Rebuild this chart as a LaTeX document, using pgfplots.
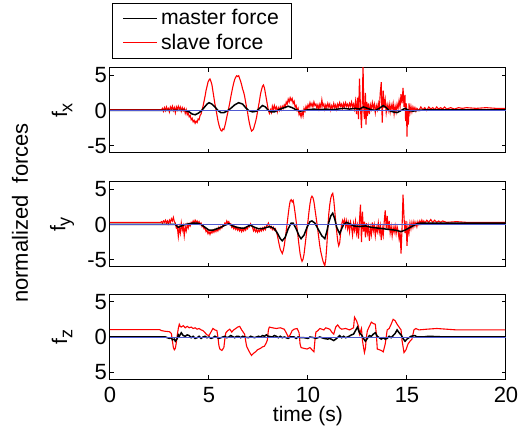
\documentclass[border=0pt]{standalone}
\usepackage{fontspec}
\setmainfont{Liberation Sans}
\usepackage{pgfplots}
\pgfplotsset{compat=1.18}
\definecolor{zeroblue}{RGB}{80,90,210}
\newcommand{\ff}{\fontsize{10.6}{12.6}\selectfont}
\pgfplotsset{
  fpanel/.style={
    scale only axis, width=198pt, height=42.5pt,
    xmin=0, xmax=20, ymin=-6, ymax=6,
    xtick={0,5,10,15,20}, ytick={-5,0,5},
    tick align=inside, xtick pos=both, ytick pos=both,
    major tick length=2pt,
    axis line style={line width=0.5pt},
    every tick/.style={black, line width=0.5pt},
    tick label style={font=\fontsize{11}{13}\selectfont},
    /pgf/number format/assume math mode=true,
    yticklabel style={xshift=2pt},
    xticklabel style={yshift=-0.3pt},
    ylabel style={at={(axis description cs:-0.121,0.5)}, anchor=center, font=\ff},
    anchor=south west,
  },
  slave/.style={red, line width=0.55pt},
  master/.style={black, line width=0.75pt},
  zero/.style={zeroblue, line width=0.35pt},
}
\newcommand{\sub}[1]{\raisebox{-0.45ex}{\fontsize{9}{9}\selectfont #1}}
\begin{document}
\begin{tikzpicture}
% ---- f_x ----
\begin{axis}[fpanel, at={(55pt,137pt)}, xticklabels={}, ylabel={f\sub{x}},
  legend style={at={(axis description cs:0.005,1.765)}, anchor=north west,
    draw=black, font=\ff, cells={anchor=west},
    inner xsep=5pt, inner ysep=1.5pt, nodes={inner sep=1.5pt},
    /tikz/every even column/.append style={column sep=5.5pt}}]
\addlegendimage{master}
\addlegendimage{slave}
\legend{master force, slave force}
\addplot[slave] coordinates {(0,0.1) (2.6,0.1)
(2.65,0.3) (2.7,-0.1) (2.75,0.4) (2.8,0.0) (2.85,0.5) (2.9,0.1) (2.95,0.3) (3.0,-0.2) (3.05,0.5) (3.1,0.2) (3.15,0.6) (3.2,0.0) (3.25,0.4) (3.3,-0.3) (3.35,0.5) (3.4,0.1) (3.45,0.6) (3.5,0.2) (3.55,0.5) (3.6,-0.1) (3.65,0.4) (3.7,0.0) (3.75,0.3) (3.8,-0.4) (3.85,0.1) (3.9,-0.6) (3.95,-0.3) (4.0,-0.9) (4.05,-0.7) (4.1,-1.3) (4.15,-1.1) (4.2,-1.6) (4.25,-1.4) (4.3,-1.8) (4.35,-1.5) (4.4,-1.7) (4.45,-1.2) (4.5,-1.3) (4.55,-0.7) (4.6,-0.5) (4.65,0.1) (4.7,0.6) (4.75,1.3) (4.8,2.0) (4.85,2.8) (4.9,3.4) (4.95,4.0) (5.0,4.3) (5.05,4.45) (5.1,4.1) (5.15,3.6) (5.2,2.7) (5.25,1.8) (5.3,0.9) (5.35,0.2) (5.4,-0.6) (5.45,-1.4) (5.5,-2.0) (5.55,-2.5) (5.6,-2.8) (5.65,-2.9) (5.7,-2.6) (5.75,-2.7) (5.8,-2.2) (5.85,-1.6) (5.9,-0.9) (5.95,-0.3) (6.0,0.4) (6.05,1.1) (6.1,1.9) (6.15,2.6) (6.2,3.3) (6.25,3.9) (6.3,4.4) (6.35,4.7) (6.4,4.9) (6.45,4.8) (6.5,4.9) (6.55,4.5) (6.6,4.1) (6.65,3.6) (6.7,3.0) (6.75,2.6) (6.8,2.0) (6.85,1.2) (6.9,0.4) (6.95,-0.3) (7.0,-1.2) (7.05,-1.9) (7.1,-2.5) (7.15,-2.9) (7.2,-2.8) (7.25,-2.6) (7.3,-2.1) (7.35,-1.6) (7.4,-1.0) (7.45,-0.2) (7.5,0.6) (7.55,1.4) (7.6,2.3) (7.65,2.9) (7.7,3.4) (7.75,3.6) (7.8,3.2) (7.85,2.4) (7.9,1.6) (7.95,0.8) (8.0,0.0) (8.05,-0.4) (8.1,0.1) (8.15,-0.3) (8.2,0.6) (8.25,0.1) (8.3,0.7) (8.35,0.2) (8.4,0.5) (8.45,-0.2) (8.5,0.4) (8.55,0.0) (8.6,0.5) (8.65,0.1) (8.7,0.6) (8.75,0.3) (8.8,0.8) (8.85,0.5) (8.9,1.2) (8.95,0.9) (9.0,1.6) (9.05,1.2) (9.1,1.8) (9.15,1.4) (9.2,1.7) (9.25,1.0) (9.3,1.3) (9.35,0.5) (9.4,0.7) (9.45,0.0) (9.5,0.3) (9.55,-0.6) (9.6,-0.3) (9.65,-0.9) (9.7,-0.2) (9.75,-0.8) (9.8,0.3) (9.85,-0.1) (9.9,0.6) (9.95,0.2) (10.0,0.8) (10.05,0.4) (10.1,1.1) (10.15,0.6) (10.2,1.0) (10.25,0.5) (10.3,1.2) (10.35,0.7) (10.4,0.9) (10.45,0.3) (10.5,0.8) (10.55,0.2) (10.6,0.9) (10.65,0.4) (10.7,1.5) (10.75,0.6) (10.8,0.9) (10.85,0.2) (10.9,0.8) (10.95,0.4) (11.0,1.0) (11.05,0.5) (11.1,0.9) (11.15,0.1) (11.2,0.7) (11.25,0.3) (11.3,1.0) (11.35,0.4) (11.4,0.8) (11.45,0.2) (11.5,0.9) (11.55,0.5) (11.6,1.1) (11.65,0.6) (11.7,0.9) (11.75,0.3) (11.8,1.0) (11.85,0.5) (11.9,1.1) (11.95,0.6) (12.0,0.9) (12.05,0.4) (12.1,1.0) (12.15,0.6) (12.2,1.2) (12.25,0.5) (12.3,0.9) (12.35,0.2) (12.4,1.3) (12.45,-0.5) (12.5,1.8) (12.55,-1.2) (12.6,4.5) (12.65,0.5) (12.7,-2.5) (12.75,2.0) (12.78,6.5) (12.82,0.0) (12.85,-1.2) (12.9,2.5) (12.93,-2.0) (12.97,1.2) (13.0,-0.8) (13.05,1.0) (13.1,-0.5) (13.15,0.8) (13.2,0.2) (13.25,1.1) (13.3,0.3) (13.35,0.9) (13.4,-0.3) (13.45,0.7) (13.5,0.1) (13.55,1.0) (13.6,0.0) (13.65,2.5) (13.7,4.0) (13.72,1.5) (13.75,-1.7) (13.8,2.8) (13.85,0.4) (13.9,1.5) (13.95,-0.3) (14.0,0.8) (14.05,0.0) (14.1,0.9) (14.15,-0.2) (14.2,0.8) (14.25,0.2) (14.3,1.0) (14.35,-0.5) (14.4,0.6) (14.45,-0.2) (14.5,0.9) (14.55,0.3) (14.6,1.4) (14.65,0.5) (14.7,2.3) (14.75,1.0) (14.8,3.2) (14.85,0.5) (14.9,2.2) (14.93,-1.5) (14.97,1.0) (15.0,-3.7) (15.03,0.2) (15.07,-2.0) (15.1,1.0) (15.15,-0.3) (15.2,0.6) (15.25,-0.2) (15.3,0.5) (15.35,0.0) (15.4,0.4) (15.45,-0.1) (15.5,0.3) (15.6,0.0) (15.7,0.5) (15.8,0.1) (15.9,0.4) (16.0,0.0) (16.1,0.5) (16.2,0.2) (16.3,0.4) (16.4,0.1) (16.5,0.5) (16.6,0.2) (16.7,0.4) (16.8,0.2) (16.9,0.5) (17.0,0.2) (17.2,0.4) (17.4,0.2) (17.6,0.4) (17.8,0.3) (18.0,0.4) (18.5,0.3) (19.0,0.4) (19.5,0.3) (19.95,0.3)};
\addplot[master] coordinates {(0,0) (3.8,0) (4.0,-0.2) (4.15,-0.5) (4.3,-0.6) (4.45,-0.4) (4.6,-0.1) (4.75,0.4) (4.9,0.9) (5.0,1.1) (5.15,0.9) (5.3,0.5) (5.45,0.0) (5.6,-0.3) (5.75,-0.3) (5.9,-0.1) (6.1,0.3) (6.3,0.8) (6.5,1.1) (6.7,0.9) (6.85,0.4) (7.0,0.0) (7.2,-0.2) (7.4,-0.1) (7.55,0.3) (7.7,0.7) (7.85,0.5) (8.0,0.0) (8.15,-0.2) (8.3,-0.2) (8.45,0.0) (8.6,0.2) (8.8,0.4) (9.0,0.6) (9.2,0.4) (9.4,0.1) (9.6,-0.1) (9.8,0.0) (10.0,0.1) (10.3,0.2) (10.6,0.1) (10.9,0.2) (11.2,0.1) (11.5,0.2) (11.8,0.3) (12.1,0.2) (12.4,0.3) (12.6,0.2) (12.8,0.5) (13.0,0.3) (13.2,0.1) (13.4,0.0) (13.6,0.3) (13.8,0.7) (13.95,0.4) (14.1,0.0) (14.3,-0.2) (14.5,-0.3) (14.7,0.0) (14.9,0.3) (15.1,0.0) (15.3,-0.1) (15.5,0.0) (16.0,0.1) (17,0.1) (19.95,0.1)};
\addplot[zero] coordinates {(0,0) (20,0)};
\end{axis}
% ---- f_y ----
\begin{axis}[fpanel, at={(55pt,80pt)}, xticklabels={}, ylabel={f\sub{y}}]
\addplot[slave] coordinates {(0,0.3) (2.55,0.3) (2.6,0.4) (2.65,0.2) (2.7,0.5) (2.75,0.3) (2.8,0.6) (2.85,0.2) (2.9,0.5) (2.95,0.1) (3.0,0.6) (3.05,0.3) (3.1,0.8) (3.15,0.5) (3.2,1.0) (3.25,0.4) (3.3,0.2) (3.35,-0.5) (3.4,-0.3) (3.45,-1.7) (3.5,-0.4) (3.55,-1.2) (3.6,0.2) (3.65,-0.8) (3.7,-0.2) (3.75,-1.6) (3.8,-0.3) (3.85,-0.9) (3.9,0.0) (3.95,-0.5) (4.0,0.1) (4.05,-0.2) (4.1,0.3) (4.15,0.1) (4.2,0.5) (4.25,0.2) (4.3,0.6) (4.35,0.3) (4.4,0.5) (4.45,0.2) (4.5,0.4) (4.55,0.0) (4.6,0.2) (4.65,-0.3) (4.7,-0.1) (4.75,-0.6) (4.8,-0.5) (4.85,-1.0) (4.9,-0.8) (4.95,-1.3) (5.0,-1.0) (5.05,-1.4) (5.1,-1.0) (5.15,-1.2) (5.2,-0.8) (5.25,-1.1) (5.3,-0.7) (5.35,-1.0) (5.4,-0.6) (5.45,-0.9) (5.5,-0.4) (5.55,-0.7) (5.6,-0.3) (5.65,-0.5) (5.7,-0.1) (5.75,-0.2) (5.8,0.2) (5.85,0.0) (5.9,0.5) (5.95,0.2) (6.0,0.4) (6.05,0.0) (6.1,0.1) (6.15,-0.4) (6.2,-0.2) (6.25,-0.6) (6.3,-0.3) (6.35,-0.7) (6.4,-0.4) (6.45,-0.8) (6.5,-0.5) (6.55,-0.9) (6.6,-0.6) (6.65,-1.0) (6.7,-0.6) (6.75,-0.9) (6.8,-0.5) (6.85,-0.8) (6.9,-0.4) (6.95,-0.6) (7.0,-0.1) (7.05,-0.3) (7.1,0.1) (7.15,-0.2) (7.2,-0.4) (7.25,-0.9) (7.3,-0.6) (7.35,-1.0) (7.4,-0.7) (7.45,-1.1) (7.5,-0.8) (7.55,-1.0) (7.6,-0.6) (7.65,-0.9) (7.7,-0.5) (7.75,-0.8) (7.8,-0.4) (7.85,-0.7) (7.9,-0.2) (7.95,-0.1) (8.0,0.2) (8.05,-0.2) (8.1,-0.5) (8.15,-0.3) (8.2,-0.7) (8.25,-0.4) (8.3,-0.8) (8.35,-0.6) (8.4,-1.0) (8.45,-1.5) (8.5,-2.2) (8.55,-2.9) (8.6,-3.5) (8.65,-3.8) (8.7,-4.1) (8.75,-3.7) (8.8,-3.0) (8.85,-2.0) (8.9,-0.9) (8.95,0.2) (9.0,1.4) (9.05,2.5) (9.1,3.3) (9.15,3.5) (9.2,3.2) (9.25,3.4) (9.3,2.6) (9.35,1.6) (9.4,0.5) (9.45,-0.6) (9.5,-1.8) (9.55,-3.0) (9.6,-4.1) (9.65,-4.8) (9.7,-5.2) (9.75,-4.9) (9.8,-4.2) (9.85,-3.0) (9.9,-1.8) (9.95,-0.6) (10.0,0.5) (10.05,1.8) (10.1,2.9) (10.15,3.7) (10.2,4.0) (10.25,3.8) (10.3,3.2) (10.35,2.2) (10.4,1.2) (10.45,0.2) (10.5,-0.9) (10.55,-2.0) (10.6,-3.1) (10.65,-3.9) (10.7,-4.5) (10.75,-5.1) (10.8,-5.5) (10.85,-5.8) (10.9,-4.9) (10.95,-3.0) (11.0,-0.6) (11.05,1.5) (11.1,2.8) (11.15,3.7) (11.2,4.2) (11.25,4.4) (11.3,3.5) (11.35,2.0) (11.4,0.4) (11.45,-1.0) (11.5,-2.3) (11.55,-3.0) (11.6,-2.6) (11.65,-1.2) (11.7,0.0) (11.75,0.6) (11.8,0.2) (11.85,0.7) (11.9,-0.3) (11.95,0.5) (12.0,-0.6) (12.05,0.2) (12.1,-1.0) (12.15,0.3) (12.2,-0.4) (12.25,-1.5) (12.3,0.1) (12.35,-0.8) (12.4,0.4) (12.45,-1.2) (12.5,-0.2) (12.55,-2.0) (12.6,0.5) (12.65,2.8) (12.7,-2.5) (12.75,1.8) (12.8,-1.0) (12.85,0.4) (12.9,-1.8) (12.95,0.2) (13.0,-1.2) (13.05,-0.3) (13.1,-2.3) (13.15,-0.5) (13.2,-1.4) (13.25,0.3) (13.3,-0.9) (13.35,-0.1) (13.4,-1.6) (13.45,-0.4) (13.5,-1.0) (13.55,0.2) (13.6,-1.1) (13.65,-0.2) (13.7,-2.2) (13.75,-0.5) (13.8,-1.5) (13.85,0.4) (13.9,2.0) (13.95,-0.5) (14.0,1.2) (14.05,-0.8) (14.1,0.5) (14.15,-1.2) (14.2,-0.3) (14.25,-1.6) (14.3,-0.4) (14.35,-1.1) (14.4,-0.2) (14.45,-1.3) (14.5,-0.3) (14.55,-0.9) (14.6,-2.0) (14.65,-1.0) (14.7,-4.1) (14.75,-0.5) (14.8,4.2) (14.85,1.0) (14.9,-1.2) (14.95,0.5) (15.0,-3.0) (15.05,-0.3) (15.1,-1.2) (15.15,0.2) (15.2,-0.6) (15.25,0.3) (15.3,-0.4) (15.35,0.4) (15.4,-0.2) (15.45,0.3) (15.5,-0.3) (15.55,0.4) (15.6,0.0) (15.65,0.5) (15.7,0.1) (15.75,0.6) (15.8,0.2) (15.85,0.5) (15.9,0.2) (16.0,0.6) (16.1,0.3) (16.2,0.7) (16.3,0.3) (16.4,0.6) (16.5,0.3) (16.6,0.5) (16.7,0.3) (16.8,0.5) (17.0,0.3) (17.5,0.4) (18.0,0.3) (19.0,0.3) (19.95,0.3)};
\addplot[master] coordinates {(0,0) (3.3,0) (3.45,-0.4) (3.6,-0.2) (3.8,0.0) (4.0,0.1) (4.2,0.2) (4.4,0.2) (4.6,0.0) (4.8,-0.4) (5.0,-0.8) (5.2,-0.8) (5.4,-0.6) (5.6,-0.4) (5.8,-0.1) (6.0,0.1) (6.2,-0.2) (6.4,-0.4) (6.6,-0.5) (6.8,-0.5) (7.0,-0.2) (7.1,-0.1) (7.3,-0.4) (7.5,-0.6) (7.7,-0.6) (7.9,-0.4) (8.1,-0.3) (8.3,-0.6) (8.45,-1.2) (8.6,-2.0) (8.7,-2.3) (8.85,-1.8) (9.0,-0.6) (9.15,0.2) (9.25,0.2) (9.4,-0.6) (9.55,-1.6) (9.65,-2.0) (9.8,-1.5) (9.95,-0.4) (10.1,0.4) (10.2,0.5) (10.35,0.2) (10.5,-0.6) (10.7,-1.6) (10.85,-2.0) (10.95,-1.0) (11.05,0.3) (11.15,1.2) (11.25,1.6) (11.35,0.8) (11.45,-0.4) (11.6,-1.3) (11.7,-0.6) (11.8,0.0) (11.95,0.3) (12.1,0.1) (12.3,-0.2) (12.6,-0.3) (12.9,-0.2) (13.2,-0.4) (13.5,-0.5) (13.8,-0.6) (14.1,-0.7) (14.4,-0.8) (14.7,-1.0) (14.9,-0.8) (15.1,-0.5) (15.3,-0.2) (15.5,0.1) (15.7,0.2) (16,0.2) (19.95,0.2)};
\addplot[zero] coordinates {(0,0) (20,0)};
\end{axis}
% ---- f_z ----
\begin{axis}[fpanel, at={(55pt,23.75pt)}, yticklabels={5,0,5}, ylabel={f\sub{z}},
  xlabel={time (s)},
  xlabel style={at={(axis description cs:0.5,-0.5)}, anchor=base, font=\fontsize{10.5}{12.5}\selectfont}]
\addplot[slave] coordinates {(0,1.05) (2.5,1.05) (2.6,0.9) (2.8,0.8) (3.0,0.75) (3.1,0.5) (3.15,-0.5) (3.2,-1.5) (3.25,-1.8) (3.3,-1.6) (3.35,-0.8) (3.4,0.3) (3.45,1.2) (3.5,1.8) (3.55,1.5) (3.6,1.4) (3.7,1.6) (3.8,1.3) (3.9,1.5) (4.0,1.3) (4.1,1.4) (4.2,1.2) (4.3,1.3) (4.4,1.1) (4.5,1.2) (4.6,1.0) (4.7,0.9) (4.8,0.6) (4.9,0.3) (5.0,0.2) (5.1,0.7) (5.2,1.2) (5.3,1.0) (5.4,0.9) (5.45,0.0) (5.5,-1.2) (5.55,-1.7) (5.65,-1.9) (5.75,-1.5) (5.8,-0.3) (5.85,0.6) (5.95,0.9) (6.05,1.1) (6.15,0.7) (6.25,1.0) (6.35,1.2) (6.45,1.4) (6.55,1.5) (6.65,1.0) (6.75,0.6) (6.8,0.4) (6.85,-0.5) (6.9,-1.3) (7.0,-1.9) (7.1,-2.4) (7.15,-2.6) (7.25,-2.3) (7.35,-2.1) (7.45,-1.8) (7.6,-1.6) (7.7,-1.4) (7.8,-1.3) (7.9,-0.8) (7.95,-0.4) (8.0,1.0) (8.05,1.4) (8.2,1.3) (8.4,1.2) (8.6,1.3) (8.8,1.1) (8.9,0.6) (9.0,0.0) (9.1,0.3) (9.2,0.9) (9.3,1.1) (9.45,1.2) (9.55,0.6) (9.6,-1.0) (9.65,-1.5) (9.8,-1.6) (9.95,-1.7) (10.1,-1.5) (10.2,-1.8) (10.3,-2.1) (10.35,-0.5) (10.4,0.7) (10.5,0.9) (10.6,1.2) (10.8,1.0) (10.9,1.3) (11.1,1.1) (11.2,0.7) (11.3,0.4) (11.4,1.4) (11.5,1.7) (11.6,1.3) (11.7,1.1) (11.9,1.2) (12.1,1.0) (12.3,1.3) (12.35,2.8) (12.45,2.3) (12.55,1.5) (12.6,0.4) (12.7,1.2) (12.75,-0.5) (12.85,-2.2) (12.9,-1.6) (12.95,0.0) (13.0,0.9) (13.1,1.5) (13.2,2.1) (13.3,1.9) (13.4,1.8) (13.45,0.5) (13.5,-1.7) (13.6,-1.8) (13.7,-1.9) (13.8,-2.1) (13.9,-1.0) (14.0,1.0) (14.1,1.2) (14.2,1.8) (14.3,2.5) (14.4,2.3) (14.5,1.8) (14.6,1.4) (14.7,1.0) (14.75,-0.5) (14.85,-2.2) (14.95,-1.8) (15.05,-1.0) (15.15,-0.6) (15.25,-0.3) (15.35,1.0) (15.45,1.2) (15.6,1.0) (16,1.1) (16.5,1.2) (17,1.1) (17.5,1.0) (19.95,1.0)};
\addplot[master] coordinates {(0,0) (2.8,0) (3.0,-0.2) (3.1,-0.1) (3.15,-0.4) (3.25,-0.3) (3.3,-0.6) (3.4,-0.2) (3.45,0.3) (3.5,0.1) (3.6,0.6) (3.7,0.2) (3.8,0.1) (3.9,0.3) (4.0,0.2) (4.1,-0.1) (4.2,0.1) (4.3,-0.2) (4.4,-0.1) (4.5,0.1) (4.6,-0.2) (4.7,0.0) (4.8,0.1) (4.9,-0.1) (5.0,0.0) (5.1,-0.2) (5.2,-0.1) (5.3,0.1) (5.5,-0.2) (5.6,-0.1) (5.8,0.1) (5.9,-0.1) (6.0,0.0) (6.1,0.2) (6.3,-0.1) (6.4,0.1) (6.5,0.1) (6.6,-0.1) (6.7,0.1) (6.8,0.0) (7.0,-0.1) (7.1,0.1) (7.2,0.0) (7.3,-0.1) (7.5,0.1) (7.6,0.0) (7.7,0.2) (7.8,0.1) (7.9,0.3) (8.0,0.1) (8.2,0.0) (8.3,0.2) (8.4,0.1) (8.5,-0.1) (8.6,0.1) (8.7,-0.1) (8.8,0.0) (9.0,-0.2) (9.1,0.0) (9.3,0.0) (9.4,-0.2) (9.5,0.0) (9.6,-0.1) (9.8,-0.1) (10.0,-0.2) (10.1,0.0) (10.3,-0.1) (10.4,-0.2) (10.5,-0.1) (10.6,0.0) (10.8,-0.2) (11.0,-0.3) (11.1,-0.2) (11.3,-0.5) (11.45,-0.2) (11.6,0.2) (11.7,-0.1) (11.8,0.1) (11.9,-0.1) (12.0,0.0) (12.2,0.3) (12.3,0.4) (12.4,0.9) (12.5,1.4) (12.6,0.6) (12.7,0.3) (12.8,-0.2) (12.9,-0.6) (13.0,-0.2) (13.1,0.2) (13.2,0.1) (13.3,0.4) (13.4,0.6) (13.5,0.1) (13.6,-0.1) (13.7,-0.3) (13.8,-0.1) (13.9,-0.3) (14.0,-0.2) (14.1,0.1) (14.2,-0.1) (14.3,0.2) (14.4,0.5) (14.5,1.0) (14.6,0.6) (14.7,0.3) (14.8,-0.2) (14.9,-0.6) (15.0,-0.3) (15.1,-0.1) (15.2,0.1) (15.4,0.2) (15.5,0.0) (15.8,0.0) (16.1,0.1) (16.5,0.05) (17,0.0) (19.95,0.0)};
\addplot[zero] coordinates {(0,0) (20,0)};
\end{axis}
\node[rotate=90, font=\fontsize{11}{13}\selectfont] at (10pt,107pt) {normalized\ \ forces};
\pgfresetboundingbox
\useasboundingbox (0,0) rectangle (260.5pt,213.5pt);
\end{tikzpicture}
\end{document}
